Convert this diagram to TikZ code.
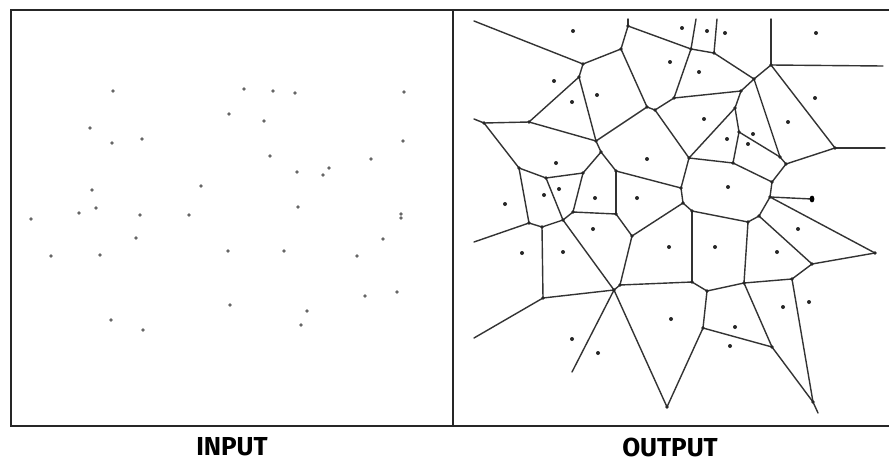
\documentclass[tikz,border=0pt]{standalone}
\usepackage{fontspec}
\newfontfamily\labfont{Fira Sans}
\begin{document}
\begin{tikzpicture}[x=1pt,y=-1pt,
  frame/.style={draw=black!85,line width=1.8pt},
  divider/.style={draw=black!85,line width=1.1pt},
  vedge/.style={draw=black!80,line width=1.4pt,line cap=round,line join=round},
  lab/.style={font=\labfont\bfseries\fontsize{26}{26}\selectfont,text=black,inner sep=0pt}]
\useasboundingbox (0,0) rectangle (889,466);
\fill[white] (0,0) rectangle (889,466);
% frame
\draw[frame] (889,10) -- (11,10) -- (11,426) -- (889,426);
\draw[divider] (453,10) -- (453,426);
% labels
\node[lab] (inlab) at (232,447) {INPUT};
\node[lab] (outlab) at (670,447) {OUTPUT};
% input points
\foreach \p in {(113,91),(244,89),(273,91),(295,93),(404,92),(229,114),(264,121),(90,128),(112,143),(142,139),(403,141),(270,156),(371,159),(297,172),(323,175),(329,168),(92,190),(201,186),(31,219),(79,213),(96,208),(140,215),(189,215),(298,207),(136,238),(51,256),(100,255),(228,251),(284,251),(357,256),(383,239),(365,296),(397,292),(230,305),(307,311),(301,325),(111,320),(143,330)}
  \fill[black!60] \p circle (1.8);
\fill[black!60] (401,214) circle (1.8);
\fill[black!60] (401,218) circle (1.8);
% voronoi vertices
\coordinate (F1) at (474,21);  \coordinate (F2) at (628,19);
\coordinate (F3) at (696,19);  \coordinate (F4) at (717,19);
\coordinate (F5) at (771,19);  \coordinate (F6) at (883,66);
\coordinate (F7) at (885,148); \coordinate (F8) at (474,119);
\coordinate (F9) at (474,242); \coordinate (F10) at (474,338);
\coordinate (F11) at (572,372);\coordinate (F12) at (818,413);
\coordinate (F13) at (812,199);
\coordinate (v1) at (583,64);   \coordinate (v1b) at (579,77);
\coordinate (v2) at (621,49);   \coordinate (v3) at (628,26);
\coordinate (v4) at (691,49);   \coordinate (v5) at (714,53);
\coordinate (v6) at (754,79);   \coordinate (v7) at (771,65);
\coordinate (v8) at (674,98);   \coordinate (v9) at (655,110);
\coordinate (v10) at (647,107); \coordinate (v12) at (741,91);
\coordinate (v13) at (596,141); \coordinate (v14) at (735,108);
\coordinate (v15) at (689,158); \coordinate (v16) at (739,132);
\coordinate (v17) at (780,157); \coordinate (v18) at (835,148);
\coordinate (v18b) at (786,164);\coordinate (v19) at (733,163);
\coordinate (v20) at (772,182); \coordinate (v21) at (770,197);
\coordinate (v22) at (759,216); \coordinate (v23) at (875,253);
\coordinate (v24) at (748,222); \coordinate (v25) at (812,264);
\coordinate (v26) at (792,279); \coordinate (v27) at (692,211);
\coordinate (v28) at (744,283); \coordinate (v29) at (681,188);
\coordinate (v30) at (616,171); \coordinate (v31) at (683,203);
\coordinate (v32) at (632,236); \coordinate (v33) at (692,282);
\coordinate (v34) at (707,291); \coordinate (v36) at (703,328);
\coordinate (v37) at (772,347); \coordinate (v38) at (813,402);
\coordinate (v39) at (667,407); \coordinate (v40) at (614,290);
\coordinate (v41) at (620,285); \coordinate (v42) at (543,298);
\coordinate (v44) at (616,214); \coordinate (v45) at (573,212);
\coordinate (v46) at (601,152); \coordinate (v47) at (583,173);
\coordinate (v50) at (529,122); \coordinate (v51) at (484,123);
\coordinate (v52) at (519,168); \coordinate (v53) at (546,178);
\coordinate (v54) at (529,223); \coordinate (v55) at (563,220);
\coordinate (v56) at (542,227);
% voronoi edges
\foreach \a/\b in {F1/v1,v1/v2,v1/v1b,v2/v3,v3/F2,v3/v4,v2/v10,
  v4/F3,v4/v5,v4/v8,v5/F4,v5/v6,v6/v7,v6/v12,v6/v17,v7/F5,v7/F6,v7/v18,
  v8/v9,v8/v12,v9/v10,v9/v15,v10/v13,
  v12/v14,v14/v15,v14/v16,v16/v19,v16/v17,v17/v18b,v18b/v18,v18/F7,v18b/v20,
  v19/v15,v19/v20,v20/v21,v21/F13,v21/v22,v21/v23,v22/v24,v22/v25,v23/v25,v25/v26,
  v24/v27,v24/v28,v15/v29,v29/v30,v29/v31,v31/v27,v31/v32,v27/v33,v33/v34,v33/v41,
  v34/v28,v34/v36,v28/v26,v28/v37,v26/v38,v37/v36,v37/v38,v38/F12,v36/v39,v39/v40,
  v40/v41,v40/v42,v40/v55,v40/F11,v41/v32,v32/v44,v44/v30,v44/v45,v30/v46,v46/v13,v46/v47,
  v13/v1b,v13/v50,v1b/v50,v50/v51,v51/F8,v51/v52,v52/v53,v52/v54,v53/v47,v53/v55,
  v47/v45,v45/v55,v55/v56,v56/v54,v56/v42,v54/F9,v42/F10}
  \draw[vedge] (\a) -- (\b);
% vertex marks
\foreach \v in {v1,v1b,v2,v3,v4,v5,v6,v7,v8,v9,v10,v12,v13,v14,v15,v16,v17,v18,v18b,v19,v20,v21,v22,v23,v24,v25,v26,v27,v28,v29,v30,v31,v32,v33,v34,v36,v37,v38,v39,v40,v41,v42,v44,v45,v46,v47,v50,v51,v52,v53,v54,v55,v56}
  \fill[black!85] (\v) circle (1.9);
% output sites
\foreach \p in {(573,31),(682,28),(707,31),(725,33),(816,33),(554,81),(597,95),(572,102),(670,62),(699,72),(815,98),(704,119),(788,122),(753,134),(748,144),(727,139),(556,163),(647,159),(559,189),(544,195),(505,204),(595,198),(637,198),(728,187),(593,229),(669,247),(715,247),(798,229),(777,252),(522,253),(563,252),(671,319),(572,339),(598,353),(735,327),(730,346),(783,307),(809,302)}
  \fill[black!85] \p circle (2);
\fill[black] (F13) ellipse (2.4 and 3.4);
\end{tikzpicture}
\end{document}
